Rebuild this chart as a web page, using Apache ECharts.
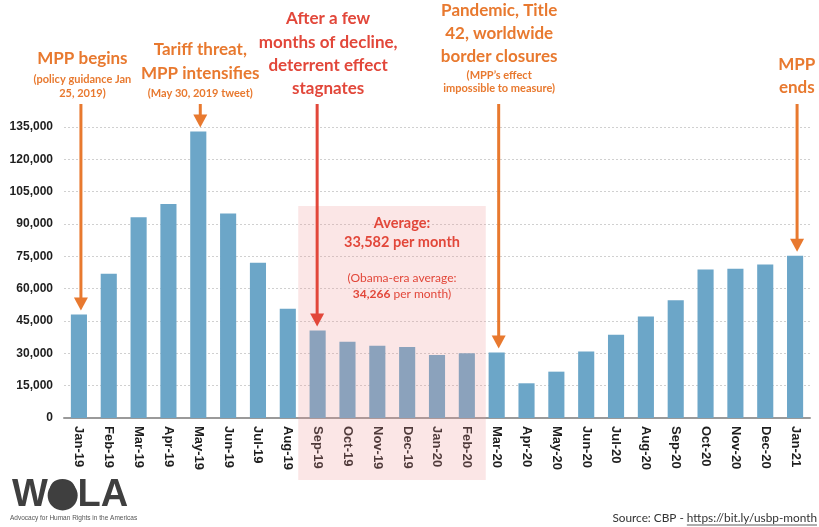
<!DOCTYPE html>
<html><head><meta charset="utf-8">
<script src="https://cdn.jsdelivr.net/npm/echarts@6/dist/echarts.min.js"></script>
<style>html,body{margin:0;padding:0;background:#fff}#c{width:819px;height:527px}</style>
</head><body><div id="c"></div>
<script>
const categories = ['Jan-19','Feb-19','Mar-19','Apr-19','May-19','Jun-19','Jul-19','Aug-19','Sep-19','Oct-19','Nov-19','Dec-19','Jan-20','Feb-20','Mar-20','Apr-20','May-20','Jun-20','Jul-20','Aug-20','Sep-20','Oct-20','Nov-20','Dec-20','Jan-21'];
const apprehensions = [48000,66900,93100,99300,132900,94900,72000,50700,40600,35400,33500,32900,29200,30000,30400,16100,21500,30800,38600,47100,54600,68900,69200,71200,75300];
const yMin = 0, yMax = 135000, yInterval = 15000;
const shadeStart = 'Sep-19', shadeEnd = 'Feb-20', shadeTopValue = 98300;
const boxLines = ['Average:', '33,582 per month', '(Obama-era average:', '34,266', ' per month)'];
const annotations = [
  {cat:'Jan-19', dx:3.5, color:'orange', lines:[['MPP begins',17,59],['(policy guidance Jan',11,79],['25, 2019)',11,93]]},
  {cat:'May-19', dx:2, color:'orange', lines:[['Tariff threat,',17,50],['MPP intensifies',17,74],['(May 30, 2019 tweet)',11,93]]},
  {cat:'Sep-19', dx:10.5, color:'red', arrowDx:-0.5, lines:[['After a few',17,19],['months of decline,',17,43],['deterrent effect',17,66],['stagnates',17,89]]},
  {cat:'Mar-20', dx:2.5, color:'orange', lines:[['Pandemic, Title',17,11],['42, worldwide',17,34],['border closures',17,57],['(MPP\u2019s effect',11,75],['impossible to measure)',11,88]]},
  {cat:'Jan-21', dx:1.7, color:'orange', lines:[['MPP',17,65],['ends',17,88]]}
];
const sourceText = 'Source: CBP - ', sourceLink = 'https://bit.ly/usbp-month';
const logoText = 'WOLA', logoTagline = 'Advocacy for Human Rights in the Americas';

const COLORS = {orange:'#e8792f', red:'#e2473a', bar:'#6ca6c8'};
const chart = echarts.init(document.getElementById('c'), null, {renderer:'canvas'});
chart.setOption({
  animation:false,
  grid:{left:64, right:9, top:127, bottom:109, containLabel:false},
  xAxis:{type:'category', data:categories,
    axisLine:{lineStyle:{color:'#9a9a9a', width:2}},
    axisTick:{show:false},
    axisLabel:{rotate:-90, margin:8, color:'#1e1e1e', fontFamily:'Liberation Sans, Arial, sans-serif', fontWeight:'bold', fontSize:13, interval:0}
  },
  yAxis:{type:'value', min:yMin, max:yMax, interval:yInterval,
    axisLine:{show:false}, axisTick:{show:false},
    splitLine:{lineStyle:{color:'#d0d0d0', type:[2,2], width:1}},
    axisLabel:{margin:11, color:'#1e1e1e', fontFamily:'Liberation Sans, Arial, sans-serif', fontWeight:'bold', fontSize:12,
      formatter:v=>v.toLocaleString('en-US')}
  },
  series:[{type:'bar', data:apprehensions, barWidth:'54%', itemStyle:{color:COLORS.bar}, z:2}]
});

const px = c => chart.convertToPixel({xAxisIndex:0}, c);
const py = v => chart.convertToPixel({yAxisIndex:0}, v);
const band = px(categories[1]) - px(categories[0]);
const g = [];
// shaded region
const sx0 = px(shadeStart) - band/2 - 4.5, sx1 = px(shadeEnd) + band/2 + 4;
const sy0 = py(shadeTopValue), sy1 = py(0) + 62;
g.push({type:'rect', z:10, shape:{x:sx0, y:sy0, width:sx1-sx0, height:sy1-sy0}, style:{fill:'rgba(239,151,151,0.24)'}});
const bx = (sx0+sx1)/2 + 10;
const fam = 'Lato, "Open Sans", sans-serif';
function txt(t, x, y, size, weight, fill, align){
  return {type:'text', z:12, x:x, y:y, style:{text:t, fontSize:size, fontWeight:weight, fontFamily:fam, fill:fill,
    align:align||'center', textAlign:align||'center', verticalAlign:'middle', textVerticalAlign:'middle'}};
}
g.push(txt(boxLines[0], bx, sy0+17, 14.5, 'bold', COLORS.red));
g.push(txt(boxLines[1], bx, sy0+36, 14.5, 'bold', COLORS.red));
g.push(txt(boxLines[2], bx, sy0+72, 12, 'normal', COLORS.red));
g.push({type:'text', z:12, x:bx, y:sy0+88, style:{text:'{b|'+boxLines[3]+'}{n|'+boxLines[4]+'}', align:'center', textAlign:'center', verticalAlign:'middle', textVerticalAlign:'middle',
  fontFamily:fam, fontSize:12, fill:COLORS.red,
  rich:{b:{fontFamily:fam, fontSize:12, fontWeight:'bold', fill:COLORS.red, color:COLORS.red}, n:{fontFamily:fam, fontSize:12, fontWeight:'normal', fill:COLORS.red, color:COLORS.red}}}});
// annotations + arrows
annotations.forEach(a=>{
  const cx = px(a.cat);
  const col = COLORS[a.color];
  a.lines.forEach(l=>g.push(txt(l[0], cx + a.dx, l[2], l[1], 'bold', col)));
  const ax = cx + (a.arrowDx !== undefined ? a.arrowDx : 2);
  const idx = categories.indexOf(a.cat);
  const tip = py(apprehensions[idx]) - 4;
  g.push({type:'line', z:11, shape:{x1:ax, y1:104, x2:ax, y2:tip-11}, style:{stroke:col, lineWidth:3}});
  g.push({type:'polygon', z:11, shape:{points:[[ax-7, tip-13],[ax+7, tip-13],[ax, tip]]}, style:{fill:col}});
});
// logo
const lf = 'bold 38px "Liberation Sans", Arial, sans-serif';
const cv = document.createElement('canvas').getContext('2d');
cv.font = lf;
const wW = cv.measureText('W').width, wO = cv.measureText('O').width;
g.push({type:'text', z:12, x:12, y:496, style:{text:logoText, fontFamily:'"Liberation Sans", Arial, sans-serif', fontWeight:'bold', fontSize:38, fill:'#3f3f3f', align:'left', textAlign:'left', verticalAlign:'middle', textVerticalAlign:'middle'}});
g.push({type:'circle', z:13, shape:{cx:12 + wW + wO/2, cy:495.5, r:15}, style:{fill:'#3f3f3f'}});
g.push({type:'text', z:12, x:10, y:518, style:{text:logoTagline, fontFamily:'"Liberation Sans", Arial, sans-serif', fontSize:6.5, fill:'#555', align:'left', textAlign:'left', verticalAlign:'middle', textVerticalAlign:'middle'}});
// source
cv.font = '11.8px Lato';
const wLink = cv.measureText(sourceLink).width;
const right = 817;
g.push({type:'text', z:12, x:right, y:518, style:{text:sourceText+sourceLink, fontFamily:'Lato', fontSize:11.8, fill:'#333', align:'right', textAlign:'right', verticalAlign:'middle', textVerticalAlign:'middle'}});
g.push({type:'line', z:12, shape:{x1:right-wLink, y1:525, x2:right, y2:525}, style:{stroke:'#333', lineWidth:0.8}});
chart.setOption({graphic:g});
</script></body></html>
